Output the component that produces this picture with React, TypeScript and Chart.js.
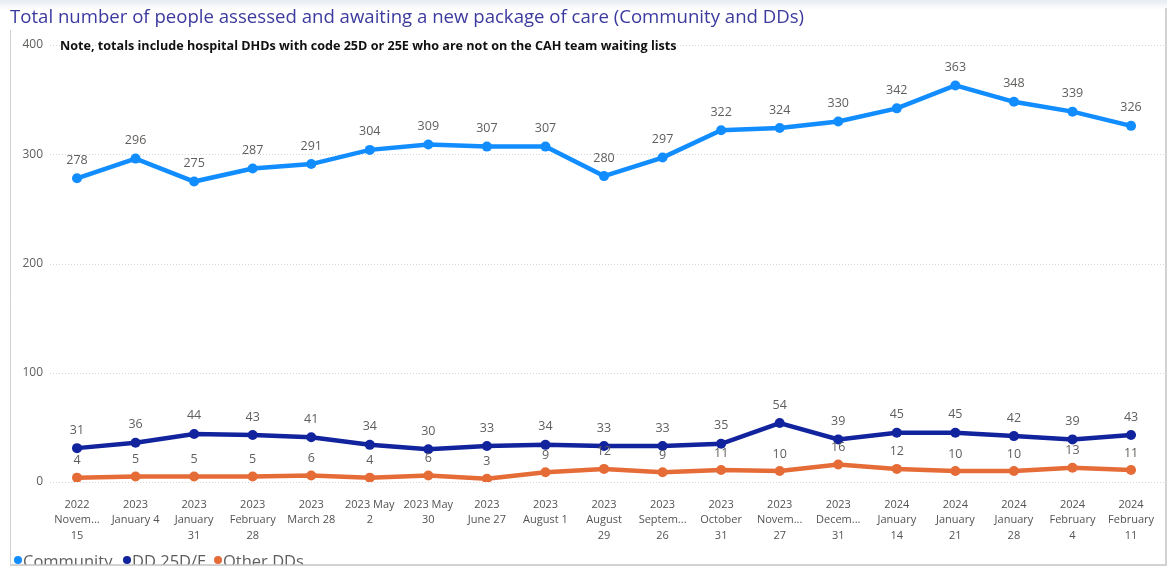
import React, { useEffect, useRef } from "react";
import { Chart, registerables } from "chart.js";

Chart.register(...registerables);

const categories: string[][] = [
  ["2022", "Novem...", "15"],
  ["2023", "January 4"],
  ["2023", "January", "31"],
  ["2023", "February", "28"],
  ["2023", "March 28"],
  ["2023 May", "2"],
  ["2023 May", "30"],
  ["2023", "June 27"],
  ["2023", "August 1"],
  ["2023", "August", "29"],
  ["2023", "Septem...", "26"],
  ["2023", "October", "31"],
  ["2023", "Novem...", "27"],
  ["2023", "Decem...", "31"],
  ["2024", "January", "14"],
  ["2024", "January", "21"],
  ["2024", "January", "28"],
  ["2024", "February", "4"],
  ["2024", "February", "11"],
];

const community = [278, 296, 275, 287, 291, 304, 309, 307, 307, 280, 297, 322, 324, 330, 342, 363, 348, 339, 326];
const dd25 = [31, 36, 44, 43, 41, 34, 30, 33, 34, 33, 33, 35, 54, 39, 45, 45, 42, 39, 43];
const otherDDs = [4, 5, 5, 5, 6, 4, 6, 3, 9, 12, 9, 11, 10, 16, 12, 10, 10, 13, 11];

const yTicks = [0, 100, 200, 300, 400];

const seriesNames = ["Community", "DD 25D/E", "Other DDs"];
const seriesColors = ["#118DFF", "#12239E", "#E66C37"];

const titleText = "Total number of people assessed and awaiting a new package of care (Community and DDs)";
const noteText = "Note, totals include hospital DHDs with code 25D or 25E who are not on the CAH team waiting lists";

const FONT = "'Open Sans', 'Noto Sans', sans-serif";

export default function App() {
  const ref = useRef<HTMLCanvasElement | null>(null);

  useEffect(() => {
    if (!ref.current) return;

    const backgroundPlugin = {
      id: "bgDecor",
      beforeDraw(chart: any) {
        const ctx = chart.ctx;
        const y = chart.scales.y;
        ctx.save();
        ctx.fillStyle = "#ffffff";
        ctx.fillRect(0, 0, chart.width, chart.height);
        const g = ctx.createLinearGradient(0, 0, 0, 10);
        g.addColorStop(0, "#e6ecf3");
        g.addColorStop(1, "#ffffff");
        ctx.fillStyle = g;
        ctx.fillRect(0, 0, chart.width, 10);
        ctx.strokeStyle = "#d6d6d6";
        ctx.lineWidth = 1;
        ctx.setLineDash([1, 2]);
        for (const v of yTicks) {
          const py = Math.round(y.getPixelForValue(v)) + 0.5;
          ctx.beginPath();
          ctx.moveTo(50, py);
          ctx.lineTo(1165, py);
          ctx.stroke();
        }
        ctx.setLineDash([]);
        ctx.fillStyle = "#3b3a9e";
        ctx.font = `18.6px ${FONT}`;
        ctx.textBaseline = "middle";
        ctx.textAlign = "left";
        ctx.fillText(titleText, 10, 18);
        ctx.fillStyle = "#111111";
        ctx.font = `bold 12.6px ${FONT}`;
        ctx.fillText(noteText, 60, 46);
        ctx.restore();
      },
    };

    const labelsPlugin = {
      id: "valueLabels",
      afterDatasetsDraw(chart: any) {
        const ctx = chart.ctx;
        ctx.save();
        ctx.font = `12.5px ${FONT}`;
        ctx.fillStyle = "#605E5C";
        ctx.textAlign = "center";
        ctx.textBaseline = "middle";
        chart.data.datasets.forEach((ds: any, di: number) => {
          const meta = chart.getDatasetMeta(di);
          meta.data.forEach((pt: any, i: number) => {
            const off = di === 2 ? 17 : 18;
            ctx.fillText(String(ds.data[i]), pt.x, pt.y - off);
          });
        });
        ctx.restore();
      },
      afterDraw(chart: any) {
        const ctx = chart.ctx;
        ctx.save();
        ctx.font = `16.5px ${FONT}`;
        ctx.textBaseline = "alphabetic";
        ctx.textAlign = "left";
        const xs = [18, 127, 218];
        seriesNames.forEach((n, i) => {
          ctx.fillStyle = seriesColors[i];
          ctx.beginPath();
          ctx.arc(xs[i], 560, 4, 0, Math.PI * 2);
          ctx.fill();
          ctx.fillStyle = "#605E5C";
          ctx.fillText(n, xs[i] + 5, 567);
        });
        ctx.fillStyle = "#ffffff";
        ctx.fillRect(0, 565, chart.width, 2);
        ctx.fillRect(1167, 0, 2, chart.height);
        ctx.strokeStyle = "#c4c4c4";
        ctx.lineWidth = 1.5;
        ctx.beginPath();
        ctx.moveTo(10, 565);
        ctx.lineTo(1166, 565);
        ctx.lineTo(1166, 8);
        ctx.stroke();
        ctx.strokeStyle = "#d0d0d0";
        ctx.lineWidth = 1;
        ctx.beginPath();
        ctx.moveTo(10.5, 30);
        ctx.lineTo(10.5, 565);
        ctx.stroke();
        ctx.restore();
      },
    };

    const mk = (data: number[], i: number) => ({
      label: seriesNames[i],
      data,
      borderColor: seriesColors[i],
      backgroundColor: seriesColors[i],
      borderWidth: 4.5,
      pointRadius: 5,
      pointBorderWidth: 0,
      pointBackgroundColor: seriesColors[i],
      tension: 0,
    });

    const chart = new Chart(ref.current, {
      type: "line",
      data: {
        labels: categories,
        datasets: [mk(community, 0), mk(dd25, 1), mk(otherDDs, 2)],
      },
      plugins: [backgroundPlugin, labelsPlugin],
      options: {
        responsive: false,
        animation: false,
        events: [],
        layout: { padding: { left: 0, right: 26, top: 45, bottom: 0 } },
        plugins: {
          legend: { display: false },
          title: { display: false },
          tooltip: { enabled: false },
        },
        scales: {
          x: {
            type: "category",
            offset: false,
            grid: { display: false, drawTicks: false },
            border: { display: false },
            ticks: {
              autoSkip: false,
              maxRotation: 0,
              minRotation: 0,
              padding: 15,
              color: "#555350",
              font: { family: FONT, size: 11, lineHeight: 1.4 },
            },
            afterFit(scale: any) {
              scale.height = 85;
            },
          },
          y: {
            min: 0,
            max: 400,
            grid: { display: false, drawTicks: false },
            border: { display: false },
            ticks: {
              stepSize: 100,
              padding: 34,
              color: "#605E5C",
              font: { family: FONT, size: 12 },
            },
            afterFit(scale: any) {
              scale.width = 77;
            },
          },
        },
      },
    } as any);

    return () => chart.destroy();
  }, []);

  return (
    <canvas
      ref={ref}
      width={1169}
      height={567}
      style={{ position: "fixed", left: 0, top: 0, width: 1169, height: 567 }}
    />
  );
}
